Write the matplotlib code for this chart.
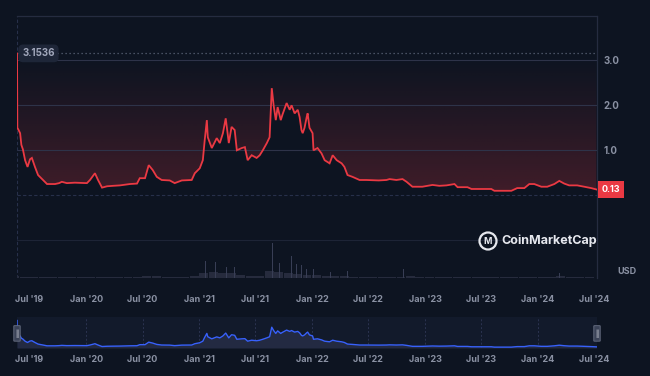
import numpy as np
import pandas as pd
import matplotlib
matplotlib.use("Agg")
import matplotlib.pyplot as plt
import matplotlib.dates as mdates
from matplotlib.patches import FancyBboxPatch, Circle

# ---------------- data ----------------
base_date = "2019-07-01"
price_days = [-40, -39, -35, -30, -26, -21, -14, -6, 2, 8, 18, 28, 44, 57, 83, 96, 105, 121, 147,
              186, 196, 212, 222, 235, 251, 270, 293, 325, 348, 357, 374, 386, 399, 412, 428, 454,
              470, 493, 525, 535, 551, 561, 567, 574, 577, 590, 606, 616, 626, 635, 645, 654, 664,
              671, 687, 697, 706, 719, 735, 745, 755, 768, 777, 784, 790, 797, 803, 813, 819, 832,
              842, 848, 858, 868, 874, 880, 884, 890, 897, 900, 906, 916, 919, 932, 945, 955, 971,
              981, 994, 1010, 1019, 1029, 1045, 1068, 1090, 1130, 1155, 1165, 1187, 1207, 1220,
              1239, 1271, 1304, 1326, 1349, 1375, 1385, 1417, 1430, 1494, 1504, 1559, 1578, 1601,
              1617, 1633, 1656, 1675, 1698, 1714, 1730, 1746, 1772, 1795, 1817, 1834]
price_vals = [3.15, 1.50, 1.45, 1.38, 1.12, 1.02, 0.78, 0.63, 0.80, 0.83, 0.63, 0.45, 0.34, 0.25,
              0.25, 0.27, 0.30, 0.27, 0.28, 0.27, 0.34, 0.49, 0.34, 0.17, 0.20, 0.21, 0.22, 0.25,
              0.26, 0.38, 0.38, 0.67, 0.56, 0.41, 0.34, 0.33, 0.27, 0.33, 0.34, 0.49, 0.60, 0.78,
              1.22, 1.67, 1.29, 1.05, 1.27, 1.16, 1.38, 1.71, 1.16, 1.52, 1.45, 1.00, 1.05, 1.07,
              0.78, 0.89, 0.83, 0.89, 1.00, 1.16, 1.29, 2.38, 2.00, 1.67, 1.96, 1.67, 1.80, 2.05,
              1.90, 2.00, 1.82, 1.90, 1.74, 1.45, 1.38, 1.50, 1.74, 1.82, 1.50, 1.38, 1.00, 1.05,
              0.93, 0.78, 0.71, 0.89, 0.78, 0.71, 0.63, 0.45, 0.41, 0.34, 0.34, 0.33, 0.34, 0.36,
              0.34, 0.36, 0.30, 0.19, 0.19, 0.23, 0.21, 0.22, 0.25, 0.18, 0.18, 0.14, 0.14, 0.10,
              0.10, 0.16, 0.16, 0.25, 0.25, 0.19, 0.19, 0.25, 0.32, 0.26, 0.22, 0.22, 0.19, 0.16,
              0.13]
start_price = 3.1536
current_price = 0.13

vol_month_start = "2019-05"
vol_monthly = [5, 4, 3, 3, 2, 2, 2, 2, 4, 3, 2, 2, 2, 3, 6, 5, 3, 2, 3, 5,
               15, 18, 15, 14, 8, 5, 6, 20, 18, 14, 12, 10, 8, 6, 5, 5, 4, 3, 3, 3,
               3, 3, 5, 2, 3, 3, 2, 2, 2, 2, 2, 2, 2, 2, 3, 3, 3, 3, 5, 3, 3, 2]
vol_spike_dates = ["2021-01-20", "2021-02-21", "2021-03-29", "2021-04-24", "2021-08-25",
                   "2021-09-16", "2021-10-25", "2021-11-10", "2021-11-27", "2021-12-13",
                   "2022-01-05", "2022-02-28", "2022-04-24", "2022-10-24", "2024-03-10"]
vol_spike_vals = [48, 46, 31, 31, 100, 43, 63, 40, 36, 27, 27, 17, 20, 27, 13]

tick_dates = ["2019-07-01", "2020-01-01", "2020-07-01", "2021-01-01", "2021-07-01", "2022-01-01",
              "2022-07-01", "2023-01-01", "2023-07-01", "2024-01-01", "2024-07-01"]
tick_labels = ["Jul '19", "Jan '20", "Jul '20", "Jan '21", "Jul '21", "Jan '22",
               "Jul '22", "Jan '23", "Jul '23", "Jan '24", "Jul '24"]
ytick_vals = [1.0, 2.0, 3.0]

# ---------------- style ----------------
BG = "#0d1421"
RED = "#ea3943"
TXT = "#8a91a3"
FONT = ["Inter", "DejaVu Sans"]
plt.rcParams["font.family"] = FONT

W, H = 650, 376
fig = plt.figure(figsize=(6.5, 3.76), dpi=100, facecolor=BG)

def rect(l, t, r, b):
    return [l / W, 1 - b / H, (r - l) / W, (b - t) / H]

base = pd.Timestamp(base_date)
dates = base + pd.to_timedelta(price_days, unit="D")
x = mdates.date2num(dates)
v = np.array(price_vals)
xlim = (mdates.date2num(base + pd.Timedelta(days=-40.1)), mdates.date2num(base + pd.Timedelta(days=1836)))
tx = mdates.date2num(pd.to_datetime(tick_dates))

# main axes
ax = fig.add_axes(rect(17, 16, 597, 278))
ax.set_facecolor(BG)
ax.set_xlim(*xlim)
ax.set_ylim(-1.838, 3.984)

# gradient fill between line and start price
poly = ax.fill_between(x, v, start_price, facecolor="none", edgecolor="none")
ny = 256
grad = np.zeros((ny, 2, 4))
rgb = matplotlib.colors.to_rgb(RED)
alphas = np.linspace(0.27, 0.0, ny) ** 1.1
grad[:, :, 0], grad[:, :, 1], grad[:, :, 2] = rgb
grad[:, :, 3] = alphas[:, None]
im = ax.imshow(grad, extent=[xlim[0], xlim[1], 0, start_price], origin="lower",
               aspect="auto", zorder=1, interpolation="bilinear")
im.set_clip_path(poly.get_paths()[0], transform=ax.transData)

for yv in ytick_vals:
    ax.axhline(yv, color="#2e3349", lw=0.8, zorder=2)
ax.axhline(0, color="#27304a", lw=0.8, ls=(0, (3, 2)), zorder=2)
ax.axhline(-1.0, color="#1d2436", lw=0.8, zorder=2)
ax.axhline(start_price, color="#5b6478", lw=0.9, ls=(0, (1, 2.2)), zorder=2)
ax.axvline(xlim[0], color="#27304a", lw=0.8, ls=(0, (3, 2)), zorder=2)

ax.plot(x, v, color=RED, lw=1.3, zorder=4, solid_joinstyle="miter")

# volume on twin axes
axv = ax.twinx()
axv.set_ylim(0, 100 * 262 / 35)
axv.set_xlim(*xlim)
mdates_v = pd.period_range(vol_month_start, periods=len(vol_monthly), freq="M").to_timestamp() + pd.Timedelta(days=14)
axv.bar(mdates.date2num(mdates_v), vol_monthly, width=29, color="#262b3d", zorder=1, linewidth=0)
axv.bar(mdates.date2num(pd.to_datetime(vol_spike_dates)), vol_spike_vals, width=3,
        color="#383e55", zorder=1, linewidth=0)
axv.set_yticks([])
for s in axv.spines.values():
    s.set_visible(False)

for s in ["left", "bottom"]:
    ax.spines[s].set_visible(False)
ax.spines["top"].set_color("#252c40")
ax.spines["right"].set_color("#252c40")
ax.spines["top"].set_linewidth(0.9)
ax.spines["right"].set_linewidth(0.9)

ax.yaxis.tick_right()
ax.set_yticks(ytick_vals)
ax.set_yticklabels([f"{t:.1f}" for t in ytick_vals], color=TXT, fontsize=7, fontweight="bold")
ax.tick_params(axis="y", length=0, pad=5)
ax.set_xticks(tx)
ax.set_xticklabels(tick_labels, color=TXT, fontsize=6.5, fontweight="bold")
ax.tick_params(axis="x", length=0, pad=12)

# labels
ax.text(0.009, start_price, "3.1536", transform=ax.get_yaxis_transform(), color="#a1a7bb",
        fontsize=7, fontweight="bold", va="center", ha="left", zorder=6,
        bbox=dict(boxstyle="round,pad=0.4,rounding_size=0.5", fc="#1e2638", ec="none"))
ax.text(1.008, current_price, f"{current_price:.2f}", transform=ax.get_yaxis_transform(),
        color="white", fontsize=6.5, fontweight="bold", va="center", ha="left", zorder=6,
        clip_on=False,
        bbox=dict(boxstyle="square,pad=0.45", fc=RED, ec="none"))
fig.text(617 / W, 1 - 271 / H, "USD", color=TXT, fontsize=6.5, fontweight="bold",
         ha="left", va="center")

# watermark
fig.patches.append(Circle((488 / W * 6.5 * 100, (1 - 241 / H) * 3.76 * 100), 8.5,
                          transform=None, fill=False, ec="#e6e8ee", lw=1.6))
fig.text(488 / W, 1 - 241 / H, "M", color="#e6e8ee", fontsize=6.5, fontweight="bold",
         ha="center", va="center")
fig.text(501 / W, 1 - 241 / H, "CoinMarketCap", color="#e6e8ee", fontsize=9, fontweight="bold",
         ha="left", va="center")

# navigator
axn = fig.add_axes(rect(17, 317, 597, 348))
axn.set_facecolor("#121a2b")
axn.set_xlim(*xlim)
axn.set_ylim(0, 3.55)
axn.fill_between(x, v, 0, color="#232a42", lw=0, zorder=2)
axn.plot(x, v, color="#3861fb", lw=1.0, zorder=3)
for t in tx[1:-1]:
    axn.axvline(t, color="#2b3350", lw=0.7, ls=(0, (2, 2)), zorder=1)
for s in axn.spines.values():
    s.set_visible(False)
axn.set_yticks([])
axn.set_xticks(tx)
axn.set_xticklabels(tick_labels, color=TXT, fontsize=6.5, fontweight="bold")
axn.tick_params(axis="x", length=0, pad=5)
for hx in (0.0, 1.0):
    axn.add_patch(FancyBboxPatch((hx - 0.0055, 0.22), 0.011, 0.5, transform=axn.transAxes,
                                 boxstyle="round,pad=0,rounding_size=0.004", fc="#3a4257",
                                 ec="#6b7386", lw=0.6, clip_on=False, zorder=5))
    axn.text(hx, 0.47, "||", transform=axn.transAxes, color="#c9ccd6", fontsize=4.5,
             ha="center", va="center", zorder=6, clip_on=False)

fig.savefig("out.png", dpi=100, facecolor=BG)
